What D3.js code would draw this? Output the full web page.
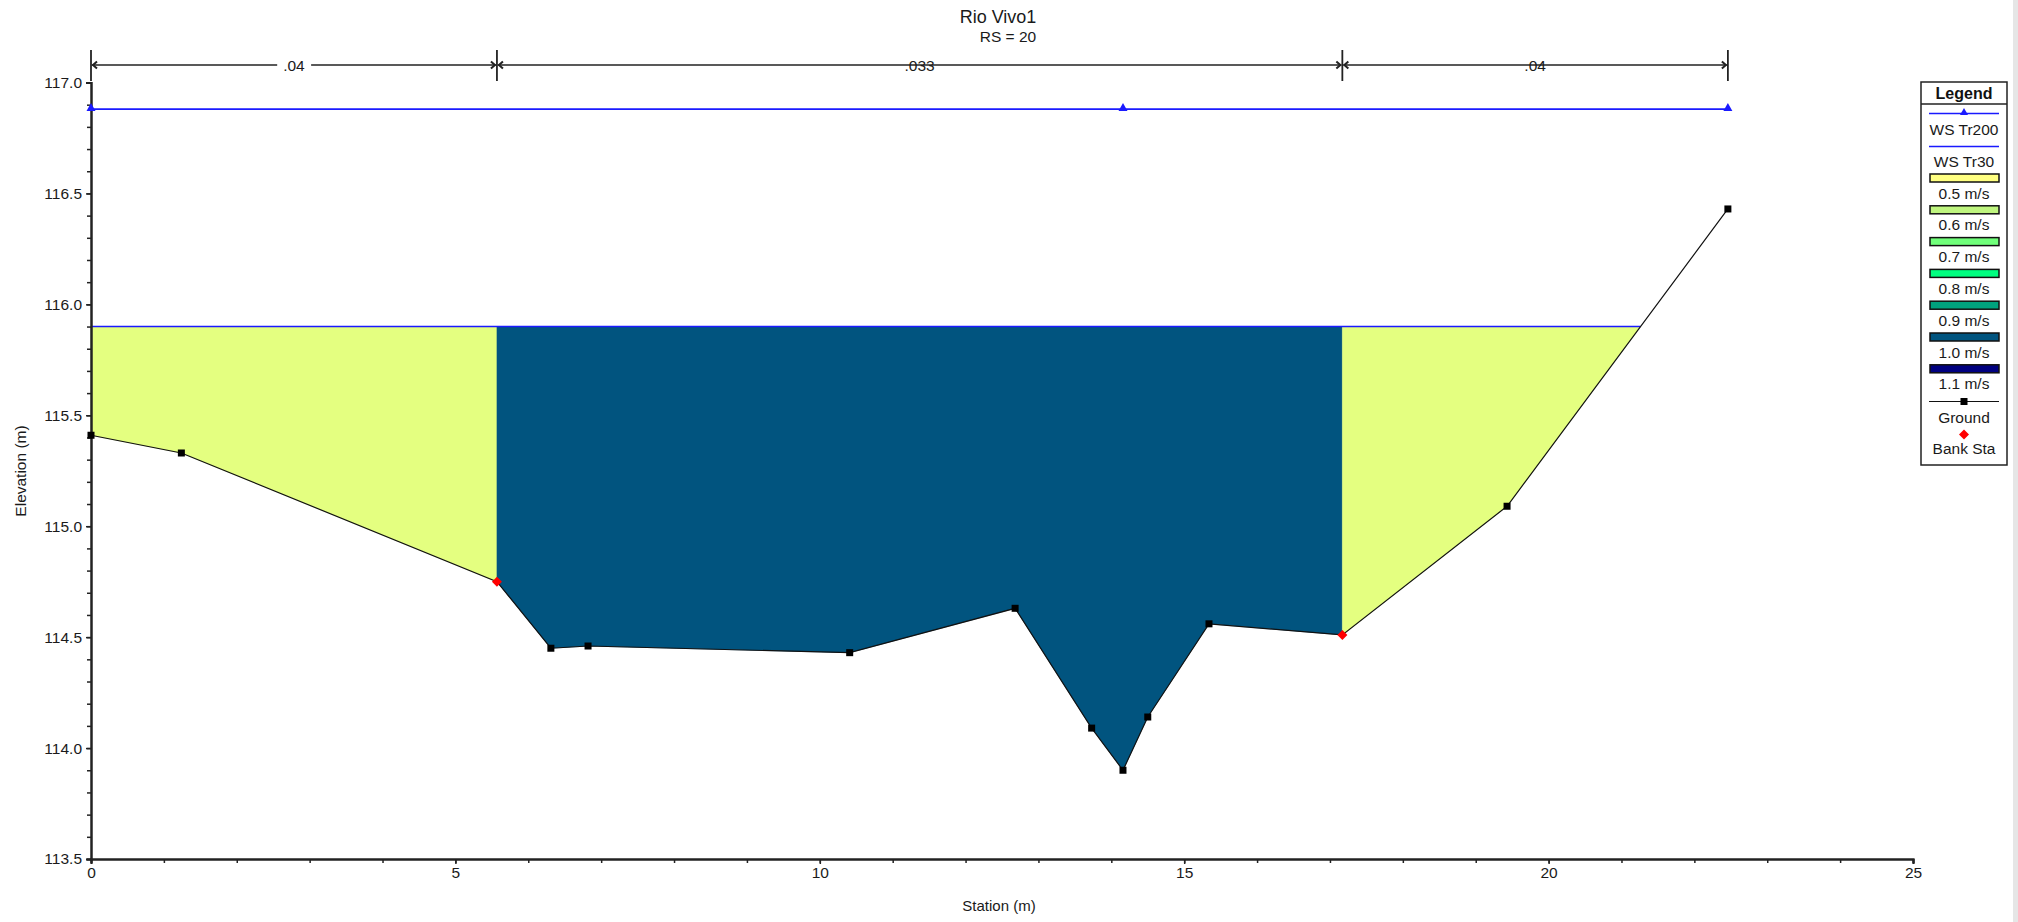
<!DOCTYPE html>
<html><head><meta charset="utf-8">
<script src="https://cdn.jsdelivr.net/npm/d3@7"></script>
<style>
html,body{margin:0;padding:0;background:#fff;}
svg{display:block;font-family:"Liberation Sans",Arial,sans-serif;}
</style></head>
<body>
<svg id="chart" width="2018" height="922"></svg>
<script>
// ---------- DATA ----------
const title = "Rio Vivo1";
const subtitle = "RS = 20";
const stations   = [0, 1.24, 5.57, 6.31, 6.82, 10.41, 12.68, 13.73, 14.16, 14.50, 15.34, 17.17, 19.43, 22.46];
const elevations = [115.41, 115.33, 114.75, 114.45, 114.46, 114.43, 114.63, 114.09, 113.90, 114.14, 114.56, 114.51, 115.09, 116.43];
const bankStations = [5.57, 17.17];
const wsTr200 = 116.88;
const wsTr30 = 115.90;
const wsTr200Markers = [0, 14.16, 22.46];
const nBreaks = [0, 5.57, 17.17, 22.46];
const nValues = [".04", ".033", ".04"];
const velocityColors = ["#E4FF80", "#01547F", "#E4FF80"]; // LOB, channel, ROB
const legendVelLabels = ["0.5 m/s", "0.6 m/s", "0.7 m/s", "0.8 m/s", "0.9 m/s", "1.0 m/s", "1.1 m/s"];
const legendVelColors = ["#FFFF80", "#BFF57F", "#70FF7A", "#00FF80", "#00A27E", "#01547F", "#000080"];
const xTicks = [0, 5, 10, 15, 20, 25];
const yTicks = [113.5, 114.0, 114.5, 115.0, 115.5, 116.0, 116.5, 117.0];

// ---------- SCALES ----------
const svg = d3.select("#chart");
const x = d3.scaleLinear().domain([0, 25]).range([91, 1913]);
const y = d3.scaleLinear().domain([113.5, 117]).range([859, 82.5]);
const ground = stations.map((s, i) => ({s, e: elevations[i]}));
const groundAt = s => {
  for (let i = 0; i < ground.length - 1; i++) {
    const a = ground[i], b = ground[i+1];
    if (s >= a.s && s <= b.s) return a.e + (b.e - a.e) * (s - a.s) / (b.s - a.s);
  }
  return NaN;
};

// right edge window border
svg.append("rect").attr("x", 2013).attr("y", 0).attr("width", 5).attr("height", 922).attr("fill", "#e6e6e6");

// ---------- FLOW AREAS ----------
function wetPoints(a, b, ws) {
  let pts = stations.filter(s => s > a && s < b).concat([a, b]);
  for (let i = 0; i < ground.length - 1; i++) {
    const p = ground[i], q = ground[i+1];
    if ((p.e - ws) * (q.e - ws) < 0) {
      const sc = p.s + (ws - p.e) * (q.s - p.s) / (q.e - p.e);
      if (sc > a && sc < b) pts.push(sc);
    }
  }
  pts = Array.from(new Set(pts)).sort((m, n) => m - n);
  return pts.filter(s => groundAt(s) <= ws + 1e-9).map(s => ({s, e: groundAt(s)}));
}
const area = d3.area().x(d => x(d.s)).y0(d => y(d.e)).y1(() => y(wsTr30));
for (let k = 0; k < 3; k++) {
  const pts = wetPoints(nBreaks[k], nBreaks[k+1], wsTr30);
  svg.append("path").attr("d", area(pts)).attr("fill", velocityColors[k])
    .attr("stroke", velocityColors[k]).attr("stroke-width", 0.5);
}
// WS Tr30 line
const wet = wetPoints(0, stations[stations.length-1], wsTr30);
svg.append("line").attr("x1", x(wet[0].s)).attr("x2", x(wet[wet.length-1].s))
  .attr("y1", y(wsTr30)).attr("y2", y(wsTr30)).attr("stroke", "#1a1aff").attr("stroke-width", 1.6);

// ---------- AXES ----------
const axColor = "#222";
const yMajor = d3.axisLeft(y).tickValues(yTicks).tickFormat(d3.format(".1f")).tickSize(5).tickPadding(4);
const yMinor = d3.axisLeft(y).tickValues(d3.range(1135, 1171).map(v => v / 10)).tickFormat("").tickSize(4);
const xMajor = d3.axisBottom(x).tickValues(xTicks).tickFormat(d3.format("d")).tickSize(5).tickPadding(3);
const xMinor = d3.axisBottom(x).tickValues(d3.range(0, 26)).tickFormat("").tickSize(4);
function styleAxis(g) {
  g.selectAll("path").attr("stroke", axColor).attr("stroke-width", 2);
  g.selectAll("line").attr("stroke", axColor).attr("stroke-width", 1.5);
  g.selectAll("text").attr("fill", "#1a1a1a").style("font-size", "15.5px")
    .style("font-family", '"Liberation Sans",Arial,sans-serif');
}
svg.append("g").attr("transform", `translate(${x(0)},0)`).call(yMinor).call(styleAxis);
svg.append("g").attr("transform", `translate(${x(0)},0)`).call(yMajor).call(styleAxis);
svg.append("g").attr("transform", `translate(0,${y(113.5)})`).call(xMinor).call(styleAxis);
svg.append("g").attr("transform", `translate(0,${y(113.5)})`).call(xMajor).call(styleAxis);

svg.append("text").attr("x", 999).attr("y", 911).attr("text-anchor", "middle")
  .style("font-size", "15px").attr("fill", "#1a1a1a").text("Station (m)");
svg.append("text").attr("transform", "translate(26,471) rotate(-90)").attr("text-anchor", "middle")
  .style("font-size", "15.5px").attr("fill", "#1a1a1a").text("Elevation (m)");

// ---------- TITLE ----------
svg.append("text").attr("x", 998).attr("y", 23).attr("text-anchor", "middle")
  .style("font-size", "18px").attr("fill", "#1a1a1a").text(title);
svg.append("text").attr("x", 1008).attr("y", 42).attr("text-anchor", "middle")
  .style("font-size", "15.5px").attr("fill", "#1a1a1a").text(subtitle);

// ---------- MANNING n DIMENSION LINES ----------
const dimY = 65;
const dim = svg.append("g");
nBreaks.forEach(s => {
  dim.append("line").attr("x1", x(s)).attr("x2", x(s)).attr("y1", 50).attr("y2", 81)
    .attr("stroke", "#222").attr("stroke-width", 1.8);
});
nValues.forEach((v, k) => {
  const x1 = x(nBreaks[k]) + 1, x2 = x(nBreaks[k+1]) - 1;
  dim.append("line").attr("x1", x1).attr("x2", x2).attr("y1", dimY).attr("y2", dimY)
    .attr("stroke", "#222").attr("stroke-width", 1.5);
  dim.append("path").attr("d", `M${x1+5},${dimY-3.5}L${x1+1},${dimY}L${x1+5},${dimY+3.5}`)
    .attr("fill", "none").attr("stroke", "#222").attr("stroke-width", 2);
  dim.append("path").attr("d", `M${x2-5},${dimY-3.5}L${x2-1},${dimY}L${x2-5},${dimY+3.5}`)
    .attr("fill", "none").attr("stroke", "#222").attr("stroke-width", 2);
  const cx = (x1 + x2) / 2;
  const t = dim.append("text").attr("x", cx).attr("y", dimY + 5.5).attr("text-anchor", "middle")
    .style("font-size", "15.5px").attr("fill", "#1a1a1a").text(v);
  const bb = t.node().getBBox();
  dim.insert("rect", "text").attr("x", bb.x - 6).attr("y", dimY - 3).attr("width", bb.width + 12)
    .attr("height", 6).attr("fill", "#fff");
});

// ---------- GROUND ----------
const line = d3.line().x(d => x(d.s)).y(d => y(d.e));
svg.append("path").attr("d", line(ground)).attr("fill", "none").attr("stroke", "#111").attr("stroke-width", 1.2);
svg.selectAll(".gpt").data(ground.filter(d => !bankStations.includes(d.s))).join("rect")
  .attr("x", d => x(d.s) - 3.5).attr("y", d => y(d.e) - 3.5).attr("width", 7).attr("height", 7).attr("fill", "#000");
svg.selectAll(".bank").data(bankStations).join("path")
  .attr("d", s => { const cx = x(s), cy = y(groundAt(s)); return `M${cx},${cy-5}L${cx+5},${cy}L${cx},${cy+5}L${cx-5},${cy}Z`; })
  .attr("fill", "#ff0000");

// ---------- WS Tr200 ----------
svg.append("line").attr("x1", x(0)).attr("x2", x(stations[stations.length-1]))
  .attr("y1", y(wsTr200)).attr("y2", y(wsTr200)).attr("stroke", "#1a1aff").attr("stroke-width", 1.6);
svg.selectAll(".tri").data(wsTr200Markers).join("path")
  .attr("d", s => { const cx = x(s), cy = y(wsTr200); return `M${cx},${cy-6}L${cx+4.5},${cy+2}L${cx-4.5},${cy+2}Z`; })
  .attr("fill", "#1a1aff");

// ---------- LEGEND ----------
const lg = svg.append("g");
const lx0 = 1921, lx1 = 2007, lcx = (lx0 + lx1) / 2;
lg.append("rect").attr("x", lx0).attr("y", 82).attr("width", lx1 - lx0).attr("height", 383)
  .attr("fill", "#fff").attr("stroke", "#222").attr("stroke-width", 1.5);
lg.append("line").attr("x1", lx0).attr("x2", lx1).attr("y1", 104).attr("y2", 104).attr("stroke", "#222").attr("stroke-width", 1.5);
lg.append("text").attr("x", lcx).attr("y", 98.5).attr("text-anchor", "middle")
  .style("font-size", "16px").style("font-weight", "bold").attr("fill", "#111").text("Legend");
const ltext = (t, yy) => lg.append("text").attr("x", lcx).attr("y", yy).attr("text-anchor", "middle")
  .style("font-size", "15.5px").attr("fill", "#1a1a1a").text(t);
// WS Tr200
lg.append("line").attr("x1", 1929).attr("x2", 1999).attr("y1", 113.5).attr("y2", 113.5).attr("stroke", "#1a1aff").attr("stroke-width", 1.6);
lg.append("path").attr("d", `M${lcx},${108}L${lcx+4},${115}L${lcx-4},${115}Z`).attr("fill", "#1a1aff");
ltext("WS Tr200", 135);
lg.append("line").attr("x1", 1929).attr("x2", 1999).attr("y1", 146.5).attr("y2", 146.5).attr("stroke", "#1a1aff").attr("stroke-width", 1.6);
ltext("WS Tr30", 167);
legendVelLabels.forEach((t, i) => {
  const top = 174 + i * 31.8;
  lg.append("rect").attr("x", 1930).attr("y", top).attr("width", 69).attr("height", 8)
    .attr("fill", legendVelColors[i]).attr("stroke", "#111").attr("stroke-width", 1.5);
  ltext(t, top + 24.5);
});
lg.append("line").attr("x1", 1929).attr("x2", 1999).attr("y1", 401.5).attr("y2", 401.5).attr("stroke", "#111").attr("stroke-width", 1.2);
lg.append("rect").attr("x", lcx - 3.5).attr("y", 398).attr("width", 7).attr("height", 7).attr("fill", "#000");
ltext("Ground", 423);
lg.append("path").attr("d", `M${lcx},${429.5}L${lcx+5},${434.5}L${lcx},${439.5}L${lcx-5},${434.5}Z`).attr("fill", "#ff0000");
ltext("Bank Sta", 453.5);
</script>
</body></html>
